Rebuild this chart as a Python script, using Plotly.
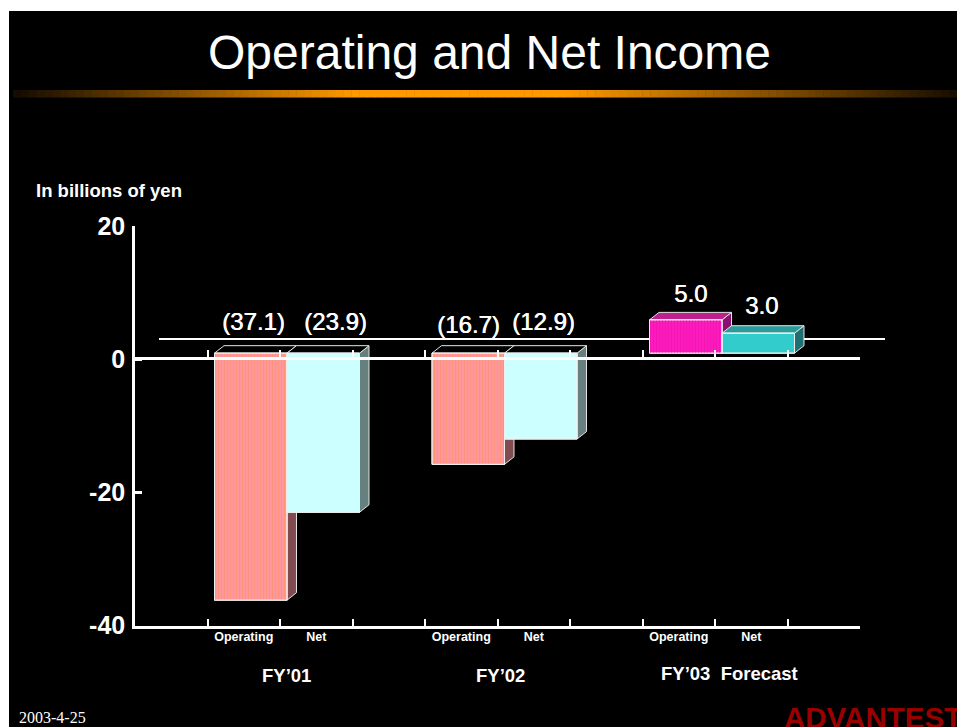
import plotly.graph_objects as go

W, H = 957, 727

periods = ["FY\u201901", "FY\u201902", "FY\u201903  Forecast"]
categories = ["Operating", "Net", "Operating", "Net", "Operating", "Net"]
bar_pos = [1.5, 2.5, 4.5, 5.5, 7.5, 8.5]
values = [-37.1, -23.9, -16.7, -12.9, 5.0, 3.0]
value_labels = ["(37.1)", "(23.9)", "(16.7)", "(12.9)", "5.0", "3.0"]
y_ticks = [-40, -20, 0, 20]
y_tick_text = ["-40", "-20", "0", "20"]
x_ticks = list(range(11))

front_colors = ["#FF98A0", "#CCFFFF", "#FF98A0", "#CCFFFF", "#FF19C0", "#33CCCC"]
stripe_shapes = ["|", "", "|", "", "|", ""]
stripe_colors = ["#FF9478", "#CCFFFF", "#FF9478", "#CCFFFF", "#F018B0", "#33CCCC"]
side_colors = ["#804C50", "#668080", "#804C50", "#668080", "#8A1070", "#1F7070"]
top_colors = ["#000000", "#000000", "#000000", "#000000", "#C0208E", "#2A9A9A"]

# pixel box of the plot, the bars sit a little in front of the axes
left, right, top, bottom = 135, 860, 226, 625.5
shift_x, shift_y = 7, 6
depth_x = 9.5 / 72.6
depth_y = 7.5 / 6.67


def px(x):
    return x / W


def py(y):
    return (H - y) / H


shapes = [
    dict(type="rect", xref="paper", yref="paper", x0=px(9), x1=1, y0=0, y1=py(11),
         fillcolor="black", line_width=0, layer="below"),
    dict(type="line", xref="paper", yref="paper", x0=px(159), x1=px(885), y0=py(339), y1=py(339),
         line=dict(color="white", width=2), layer="below"),
]

# orange band under the title
n_steps = 120
for i in range(n_steps):
    x0 = 13 + (W - 13) * i / n_steps
    x1 = 13 + (W - 13) * (i + 1) / n_steps + 0.5
    if x0 < 350:
        k = 0.08 + 0.92 * (x0 - 13) / (350 - 13)
    elif x0 < 560:
        k = 1
    else:
        k = 0.08 + 0.92 * (W - x0) / (W - 560)
    color = "rgb(%d,%d,%d)" % (255 * k, 153 * k, 0)
    shapes.append(dict(type="rect", xref="paper", yref="paper", x0=px(x0), x1=px(x1), y0=py(97.5), y1=py(90),
                       fillcolor=color, line_width=0, layer="below"))

# 3d sides and tops of the bars
for ii in range(len(values)):
    x1 = bar_pos[ii] + 0.5
    x0 = bar_pos[ii] - 0.5
    v = values[ii]
    up = max(v, 0)
    side = "M %f %f L %f %f L %f %f L %f %f Z" % (x1, v, x1 + depth_x, v + depth_y, x1 + depth_x, depth_y, x1, 0)
    if v > 0:
        side = "M %f %f L %f %f L %f %f L %f %f Z" % (x1, 0, x1 + depth_x, depth_y, x1 + depth_x, v + depth_y, x1, v)
    roof = "M %f %f L %f %f L %f %f L %f %f Z" % (x0, up, x0 + depth_x, up + depth_y, x1 + depth_x, up + depth_y, x1, up)
    line = dict(color="#E6E6E6", width=1)
    shapes.append(dict(type="path", xref="x", yref="y", path=side, fillcolor=side_colors[ii], line=line, layer="below"))
    shapes.append(dict(type="path", xref="x", yref="y", path=roof, fillcolor=top_colors[ii], line=line, layer="below"))

fig = go.Figure()

fig.add_trace(go.Bar(
    x=bar_pos,
    y=values,
    width=1,
    xaxis="x",
    yaxis="y",
    marker=dict(color=front_colors, line=dict(color="#F0F0F0", width=1)),
    hoverinfo="skip",
    showlegend=False,
))
# thin stripes on top of the flat fill
fig.add_trace(go.Bar(
    x=bar_pos,
    y=values,
    width=1,
    xaxis="x",
    yaxis="y",
    marker=dict(
        color="rgba(0,0,0,0)",
        line=dict(color="#F0F0F0", width=1),
        pattern=dict(shape=stripe_shapes, size=3, solidity=0.4, fgcolor=stripe_colors, fgopacity=1, fillmode="replace"),
    ),
    hoverinfo="skip",
    showlegend=False,
))
# empty traces so the extra axes get drawn
fig.add_trace(go.Scatter(x=[None], y=[None], xaxis="x2", yaxis="y2", showlegend=False))
fig.add_trace(go.Scatter(x=[None], y=[None], xaxis="x3", yaxis="y2", showlegend=False))
fig.add_trace(go.Scatter(x=[None], y=[None], xaxis="x4", yaxis="y2", showlegend=False))

label_xy = [(253, 321.5), (335, 321.5), (468, 324.5), (543, 321.5), (690, 293.5), (761, 305.5)]
annotations = []
for ii in range(len(value_labels)):
    annotations.append(dict(x=px(label_xy[ii][0]), y=py(label_xy[ii][1]), xref="paper", yref="paper",
                            text=value_labels[ii], showarrow=False, xanchor="center", yanchor="middle",
                            font=dict(size=24, color="white", family="Liberation Sans",
                                      shadow="0.6px 0 0 white")))

period_xy = [(286, 675), (500, 675), (729, 673)]
for ii in range(len(periods)):
    annotations.append(dict(x=px(period_xy[ii][0]), y=py(period_xy[ii][1]), xref="paper", yref="paper",
                            text="<b>%s</b>" % periods[ii], showarrow=False, xanchor="center", yanchor="middle",
                            font=dict(size=18.5, color="white", family="Liberation Sans")))

annotations += [
    dict(x=px(489), y=py(53), xref="paper", yref="paper", text="Operating and Net Income", showarrow=False,
         xanchor="center", yanchor="middle", font=dict(size=48, color="white", family="Liberation Sans")),
    dict(x=px(34), y=py(190), xref="paper", yref="paper", text="<b>In billions of yen</b>", showarrow=False,
         xanchor="left", yanchor="middle", font=dict(size=18.5, color="white", family="Liberation Sans")),
    dict(x=px(17), y=py(717), xref="paper", yref="paper", text="2003-4-25", showarrow=False,
         xanchor="left", yanchor="middle", font=dict(size=16, color="white", family="Liberation Serif")),
    dict(x=px(782), y=py(717), xref="paper", yref="paper", text="<b>ADVANTEST</b>", showarrow=False,
         xanchor="left", yanchor="middle", font=dict(size=29.5, color="#990000", family="Liberation Sans")),
]

x_domain = [px(left), px(right)]
y_domain = [py(bottom), py(top)]
axis_line = dict(showline=True, linecolor="white", linewidth=2.5, showgrid=False, zeroline=False)

fig.update_layout(
    width=W,
    height=H,
    autosize=False,
    barmode="overlay",
    margin=dict(l=0, r=0, t=0, b=0, autoexpand=False),
    paper_bgcolor="white",
    plot_bgcolor="rgba(0,0,0,0)",
    shapes=shapes,
    annotations=annotations,
    showlegend=False,
    # bars and their 3d faces, in front of the axes
    xaxis=dict(domain=[px(left + shift_x), px(right + shift_x)], range=[0, 10], visible=False, anchor="y"),
    yaxis=dict(domain=[py(bottom - shift_y), py(top - shift_y)], range=[-40, 20], visible=False, anchor="x"),
    # bottom axis and value axis
    xaxis2=dict(domain=x_domain, range=[0, 10], tickmode="array", tickvals=x_ticks, showticklabels=False,
                ticks="inside", ticklen=7, tickwidth=2, tickcolor="white", anchor="y2", **axis_line),
    yaxis2=dict(domain=y_domain, range=[-40, 20], tickmode="array", tickvals=y_ticks, ticktext=y_tick_text,
                ticks="inside", ticklen=7, tickwidth=2.5, tickcolor="white", anchor="x2", ticklabelstandoff=2,
                tickfont=dict(size=25, color="white", family="Liberation Sans", weight="bold"), **axis_line),
    # zero line with its own ticks, drawn over the bars
    xaxis3=dict(domain=x_domain, range=[0, 10], overlaying="x2", anchor="free", position=py(357.5), side="bottom",
                tickmode="array", tickvals=x_ticks, showticklabels=False, ticks="inside", ticklen=7, tickwidth=2,
                tickcolor="white", **axis_line),
    # category names under the bottom axis
    xaxis4=dict(domain=x_domain, range=[0, 10], overlaying="x2", anchor="y2", side="bottom", showline=False,
                showgrid=False, zeroline=False, tickmode="array", tickvals=bar_pos, ticktext=categories,
                ticks="", ticklabelstandoff=2,
                tickfont=dict(size=12.5, color="white", family="Liberation Sans", weight="bold")),
)

fig.write_html("out.html", config={"displayModeBar": False},
               post_script="document.body.style.margin='0';document.body.style.overflow='hidden';")
